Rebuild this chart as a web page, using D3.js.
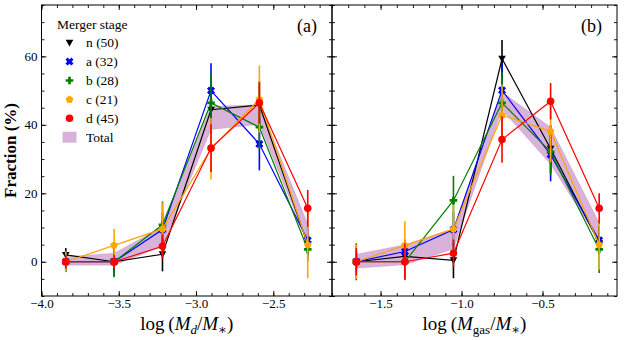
<!DOCTYPE html>
<html>
<head>
<meta charset="utf-8">
<script src="https://cdn.jsdelivr.net/npm/d3@7"></script>
<style>
  body { margin: 0; background: #fff; }
  svg, svg text { font-family: "Liberation Serif", "DejaVu Serif", serif !important; fill: #000; }
</style>
</head>
<body>
<div id="chart"></div>
<script>
// Merger stages
const stages = ["n", "a", "b", "c", "d"];
const stageCounts = [50, 32, 28, 21, 45];
const stageColors = ["black", "blue", "green", "orange", "red"];
const stageMarkers = ["v", "X", "P", "p", "o"];

// Panel (a): log(Md/M*) bin centres, fraction (%) and errors per stage
const dustBins = [-3.843, -3.530, -3.217, -2.903, -2.590, -2.277];
const dustFrac = [
  [2.0, 0.0, 2.2, 44.4, 45.8, 5.0],
  [0.0, 0.0, 9.4, 50.0, 34.4, 6.3],
  [0.0, 0.0, 10.8, 46.4, 39.3, 3.6],
  [0.0, 4.8, 9.6, 33.0, 47.5, 5.0],
  [0.0, 0.0, 4.5, 33.2, 46.4, 15.6]
];
const dustErr = [
  [2.0, 3.0, 5.0, 7.0, 7.0, 3.0],
  [3.0, 4.3, 5.0, 8.0, 7.7, 4.0],
  [3.0, 4.5, 6.8, 8.8, 6.5, 3.5],
  [3.0, 4.8, 7.7, 9.0, 9.8, 9.8],
  [2.0, 2.0, 3.5, 7.0, 6.0, 5.4]
];
const dustTotalLo = [-1.0, -1.0, 4.5, 38.6, 40.1, 5.5];
const dustTotalHi = [1.5, 2.5, 10.3, 45.4, 45.9, 11.0];

// Panel (b): log(Mgas/M*)
const gasBins = [-1.65, -1.35, -1.05, -0.75, -0.45, -0.15];
const gasFrac = [
  [0.0, 1.6, 0.4, 59.3, 33.0, 5.5],
  [0.0, 3.0, 9.4, 50.1, 31.3, 6.3],
  [0.0, 0.0, 17.9, 46.4, 32.1, 3.6],
  [0.0, 4.8, 9.6, 42.8, 38.1, 5.0],
  [0.0, 0.0, 2.5, 35.7, 46.9, 15.6]
];
const gasErr = [
  [2.0, 3.0, 5.2, 5.5, 7.0, 3.0],
  [3.0, 3.5, 5.0, 8.0, 7.8, 4.0],
  [5.4, 5.0, 7.2, 9.0, 6.7, 6.9],
  [5.0, 7.0, 7.0, 9.0, 9.0, 7.3],
  [4.0, 5.3, 4.0, 6.8, 5.3, 4.4]
];
const gasTotalLo = [-1.9, -0.9, 3.7, 44.4, 28.5, 6.0];
const gasTotalHi = [2.2, 5.0, 9.6, 49.6, 39.3, 11.4];

const width = 628, height = 340;
const plotTop = 5, plotBottom = 296;
const serif = '"Liberation Serif", "DejaVu Serif", serif';

let svg = d3.select("#chart")
  .append("svg")
  .attr("width", width)
  .attr("height", height)
  .attr("font-family", serif);

let y = d3.scaleLinear().domain([-10, 75]).range([plotBottom, plotTop]);

// marker shapes roughly like matplotlib's v, X, P, p, o
function markerPath(shape, s) {
  if (shape === "o") {
    return d3.symbol(d3.symbolCircle, Math.PI * s * s)();
  }
  if (shape === "v") {
    return `M${-s},${-s * 0.8}L${s},${-s * 0.8}L0,${s * 1.0}Z`;
  }
  if (shape === "p") {
    let pts = d3.range(5).map(k => {
      let a = -Math.PI / 2 + k * 2 * Math.PI / 5;
      return [s * 1.05 * Math.cos(a), s * 1.05 * Math.sin(a)];
    });
    return "M" + pts.map(p => p.join(",")).join("L") + "Z";
  }
  // plus / x shaped polygons
  let w = s * 0.36, L = s;
  let pts = [[w, L], [w, w], [L, w], [L, -w], [w, -w], [w, -L], [-w, -L], [-w, -w], [-L, -w], [-L, w], [-w, w], [-w, L]];
  if (shape === "X") {
    let c = Math.SQRT1_2;
    pts = pts.map(([px, py]) => [(px - py) * c * 1.1, (px + py) * c * 1.1]);
  }
  return "M" + pts.map(p => p.join(",")).join("L") + "Z";
}

let panels = [
  {
    x: d3.scaleLinear().domain([-4.0, -2.12]).range([41.5, 332]),
    bins: dustBins, frac: dustFrac, err: dustErr, lo: dustTotalLo, hi: dustTotalHi,
    tag: "(a)", yLabels: true, sub: "d", subItalic: true
  },
  {
    x: d3.scaleLinear().domain([-1.8, -0.04]).range([332, 617]),
    bins: gasBins, frac: gasFrac, err: gasErr, lo: gasTotalLo, hi: gasTotalHi,
    tag: "(b)", yLabels: false, sub: "gas", subItalic: false
  }
];

panels.forEach((p, pi) => {
  let x = p.x;
  let [x0, x1] = x.range();
  let g = svg.append("g");

  // Total band
  let area = d3.area()
    .x((d, i) => x(p.bins[i]))
    .y0((d, i) => y(p.lo[i]))
    .y1((d, i) => y(p.hi[i]));
  g.append("path")
    .datum(p.bins)
    .attr("d", area)
    .attr("fill", "purple")
    .attr("fill-opacity", 0.3)
    .attr("stroke", "purple")
    .attr("stroke-opacity", 0.15)
    .attr("stroke-width", 0.8);

  // each stage: line, error bars, markers
  stages.forEach((st, si) => {
    let color = stageColors[si];
    let pts = p.bins.map((b, i) => ({x: b, v: p.frac[si][i], e: p.err[si][i]}));
    let sg = g.append("g").attr("class", "stage-" + st);

    sg.append("path")
      .datum(pts)
      .attr("d", d3.line().x(d => x(d.x)).y(d => y(d.v)))
      .attr("fill", "none")
      .attr("stroke", color)
      .attr("stroke-width", 1.2);

    sg.selectAll(".ebar")
      .data(pts)
      .enter()
      .append("line")
      .attr("class", "ebar")
      .attr("x1", d => x(d.x))
      .attr("x2", d => x(d.x))
      .attr("y1", d => y(d.v - d.e))
      .attr("y2", d => y(d.v + d.e))
      .attr("stroke", color)
      .attr("stroke-width", 1.6);

    sg.selectAll(".mark")
      .data(pts)
      .enter()
      .append("path")
      .attr("class", "mark")
      .attr("transform", d => `translate(${x(d.x)},${y(d.v)})`)
      .attr("d", markerPath(stageMarkers[si], 3.8))
      .attr("fill", color);
  });

  // axes: ticks pointing in on all four sides
  let majX = x.ticks(5), minX = x.ticks(20);
  let majY = y.ticks(4), minY = y.ticks(20);
  let fmtX = d3.format(".1f");

  let axes = [
    [d3.axisBottom(x).tickValues(minX).tickSize(-3).tickFormat(""), `translate(0,${plotBottom})`],
    [d3.axisBottom(x).tickValues(majX).tickSize(-5).tickPadding(3).tickFormat(fmtX), `translate(0,${plotBottom})`],
    [d3.axisTop(x).tickValues(minX).tickSize(-3).tickFormat(""), `translate(0,${plotTop})`],
    [d3.axisTop(x).tickValues(majX).tickSize(-5).tickFormat(""), `translate(0,${plotTop})`],
    [d3.axisLeft(y).tickValues(minY).tickSize(-3).tickFormat(""), `translate(${x0},0)`],
    [d3.axisLeft(y).tickValues(majY).tickSize(-5).tickPadding(4).tickFormat(p.yLabels ? d3.format("d") : ""), `translate(${x0},0)`],
    [d3.axisRight(y).tickValues(minY).tickSize(-3).tickFormat(""), `translate(${x1},0)`],
    [d3.axisRight(y).tickValues(majY).tickSize(-5).tickFormat(""), `translate(${x1},0)`]
  ];
  axes.forEach(([ax, tr]) => {
    let a = svg.append("g").attr("transform", tr).call(ax)
      .attr("font-family", serif)
      .attr("font-size", 13);
    a.select(".domain").remove();
    a.selectAll("line").attr("stroke", "#000").attr("stroke-width", 0.9);
    a.selectAll("text").attr("fill", "#000");
  });

  // frame
  svg.append("rect")
    .attr("x", x0).attr("y", plotTop)
    .attr("width", x1 - x0).attr("height", plotBottom - plotTop)
    .attr("fill", "none")
    .attr("stroke", "#000")
    .attr("stroke-width", 1);

  // panel tag
  svg.append("text")
    .attr("x", x1 - 15).attr("y", 32)
    .attr("text-anchor", "end")
    .attr("font-size", 18)
    .text(p.tag);

  // x axis title: log (M_sub / M_*)
  let t = svg.append("text")
    .attr("x", (x0 + x1) / 2).attr("y", 330)
    .attr("text-anchor", "middle")
    .attr("font-size", 19);
  t.append("tspan").text("log\u2009(");
  t.append("tspan").attr("font-style", "italic").text("M");
  t.append("tspan").attr("dy", 4).attr("font-size", 13)
    .attr("font-style", p.subItalic ? "italic" : "normal").text(p.sub);
  t.append("tspan").attr("dy", -4).text("/");
  t.append("tspan").attr("font-style", "italic").text("M");
  t.append("tspan").attr("dy", 4).attr("font-size", 13).text("\u2217");
  t.append("tspan").attr("dy", -4).text(")");
});

// y axis title
svg.append("text")
  .attr("transform", `translate(16,${(plotTop + plotBottom) / 2}) rotate(-90)`)
  .attr("text-anchor", "middle")
  .attr("font-size", 17)
  .attr("font-weight", "bold")
  .text("Fraction (%)");

// legend
let legend = svg.append("g").attr("font-size", 13.5);
legend.append("text")
  .attr("x", 57).attr("y", 29)
  .text("Merger stage");

stages.forEach((st, si) => {
  let cy = 42.7 + si * 18.9;
  legend.append("path")
    .attr("transform", `translate(69.5,${cy})`)
    .attr("d", markerPath(stageMarkers[si], 3.8))
    .attr("fill", stageColors[si]);
  legend.append("text")
    .attr("x", 86).attr("y", cy + 4.5)
    .text(`${st} (${stageCounts[si]})`);
});
let totalY = 42.7 + 5 * 18.9;
legend.append("rect")
  .attr("x", 62.5).attr("y", totalY - 5.5)
  .attr("width", 14).attr("height", 11)
  .attr("fill", "purple")
  .attr("fill-opacity", 0.3);
legend.append("text")
  .attr("x", 86).attr("y", totalY + 4.5)
  .text("Total");
</script>
</body>
</html>
